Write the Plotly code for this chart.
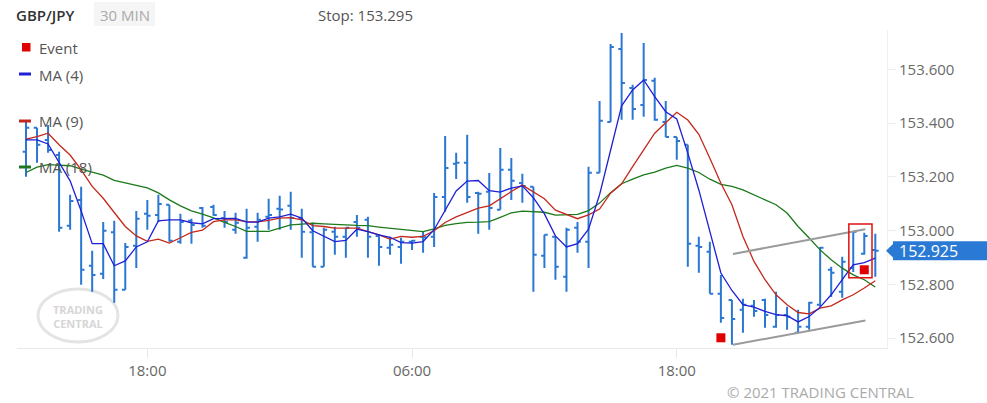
import plotly.graph_objects as go
import pandas as pd

# ---------------- data ----------------
start = pd.Timestamp("2021-03-01 12:30")
n_bars = 78
times = pd.date_range(start, periods=n_bars, freq="30min")

open_ = [153.293, 153.382, 153.337, 153.281, 153.018, 153.114, 152.869, 152.839, 152.994, 152.780,
         152.943, 153.062, 153.058, 153.096, 152.958, 153.036, 153.084, 153.088, 153.047, 153.003,
         152.899, 153.014, 153.051, 153.081, 153.092, 153.047, 152.994, 152.865, 152.995, 152.977,
         153.032, 153.040, 152.980, 152.936, 152.939, 152.958, 152.977, 152.977, 153.125, 153.248,
         153.252, 153.140, 153.144, 153.077, 153.226, 153.177, 153.163, 152.906, 152.977, 152.828,
         153.010, 152.958, 153.215, 153.404, 153.675, 153.530, 153.467, 153.557, 153.404, 153.348,
         153.319, 152.943, 152.921, 152.765, 152.742, 152.705, 152.720, 152.742, 152.642, 152.686,
         152.620, 152.642, 152.724, 152.854, 152.772, 152.861, 152.914, 152.928]
high = [153.404, 153.382, 153.393, 153.293, 153.133, 153.163, 152.925, 153.032, 153.036, 152.954,
        153.073, 153.114, 153.133, 153.096, 153.062, 153.044, 153.088, 153.096, 153.073, 153.066,
        153.081, 153.066, 153.118, 153.129, 153.144, 153.081, 153.029, 153.010, 153.014, 153.010,
        153.058, 153.051, 152.984, 152.977, 152.973, 152.965, 152.995, 153.140, 153.352, 153.289,
        153.356, 153.144, 153.214, 153.307, 153.270, 153.211, 153.163, 152.984, 152.977, 153.010,
        153.032, 153.237, 153.482, 153.694, 153.735, 153.542, 153.698, 153.568, 153.482, 153.348,
        153.319, 152.977, 152.958, 152.835, 152.742, 152.746, 152.742, 152.746, 152.772, 152.716,
        152.705, 152.735, 152.939, 152.865, 152.902, 152.995, 152.992, 152.988]
low = [153.200, 153.252, 153.289, 152.995, 153.003, 152.798, 152.772, 152.820, 152.731, 152.780,
       152.861, 153.003, 153.032, 152.958, 152.951, 152.951, 153.010, 153.055, 153.010, 152.988,
       152.895, 152.958, 153.003, 153.003, 153.003, 152.899, 152.865, 152.865, 152.910, 152.899,
       152.977, 152.899, 152.869, 152.910, 152.876, 152.928, 152.917, 152.939, 153.070, 153.192,
       153.103, 152.988, 153.003, 153.077, 153.114, 153.103, 152.772, 152.861, 152.817, 152.772,
       152.917, 152.861, 153.215, 153.404, 153.412, 153.412, 153.423, 153.408, 153.348, 153.263,
       152.865, 152.843, 152.765, 152.657, 152.575, 152.620, 152.679, 152.638, 152.638, 152.631,
       152.620, 152.631, 152.716, 152.753, 152.750, 152.846, 152.910, 152.828]
close = [153.382, 153.319, 153.300, 153.010, 153.110, 152.854, 152.835, 152.999, 152.780, 152.939,
         153.044, 153.055, 153.099, 152.962, 153.032, 153.021, 153.018, 153.058, 153.032, 153.029,
         153.010, 153.040, 153.058, 153.078, 153.047, 152.995, 152.865, 153.003, 152.977, 153.010,
         153.010, 152.977, 152.939, 152.947, 152.958, 152.962, 152.975, 153.125, 153.233, 153.252,
         153.125, 153.137, 153.084, 153.226, 153.185, 153.166, 152.910, 152.984, 152.865, 153.003,
         152.958, 153.215, 153.408, 153.683, 153.549, 153.452, 153.560, 153.412, 153.348, 153.333,
         152.951, 152.939, 152.765, 152.675, 152.671, 152.724, 152.701, 152.686, 152.686, 152.679,
         152.642, 152.731, 152.936, 152.843, 152.884, 152.995, 152.980, 152.925]

ma4 = [153.337, 153.337, 153.322, 153.252, 153.185, 153.073, 152.951, 152.951, 152.869, 152.887,
       152.939, 152.958, 153.036, 153.040, 153.040, 153.029, 153.025, 153.044, 153.044, 153.045,
       153.031, 153.031, 153.046, 153.051, 153.061, 153.046, 152.999, 152.980, 152.959, 152.963,
       153.005, 152.996, 152.984, 152.975, 152.955, 152.953, 152.959, 153.003, 153.073, 153.147,
       153.184, 153.186, 153.148, 153.143, 153.158, 153.166, 153.122, 153.062, 152.980, 152.939,
       152.951, 153.005, 153.133, 153.300, 153.464, 153.523, 153.560, 153.498, 153.442, 153.415,
       153.288, 153.151, 152.999, 152.842, 152.777, 152.724, 152.715, 152.699, 152.687, 152.683,
       152.660, 152.680, 152.715, 152.761, 152.817, 152.872, 152.881, 152.897]
ma9 = [153.340, 153.349, 153.362, 153.319, 153.281, 153.226, 153.164, 153.120, 153.067, 153.015,
       152.980, 152.960, 152.968, 152.953, 152.973, 152.993, 153.001, 153.033, 153.040, 153.040,
       153.033, 153.032, 153.038, 153.046, 153.048, 153.040, 153.018, 153.015, 153.009, 153.009,
       153.009, 152.996, 152.984, 152.968, 152.978, 152.975, 152.978, 152.999, 153.030, 153.051,
       153.068, 153.083, 153.092, 153.120, 153.145, 153.169, 153.145, 153.118, 153.076, 153.060,
       153.044, 153.058, 153.080, 153.139, 153.174, 153.238, 153.300, 153.362, 153.401, 153.440,
       153.411, 153.358, 153.269, 153.176, 153.096, 152.978, 152.885, 152.817, 152.761, 152.724,
       152.695, 152.690, 152.711, 152.720, 152.742, 152.761, 152.786, 152.813]
ma18 = [153.216, 153.236, 153.245, 153.244, 153.241, 153.228, 153.216, 153.206, 153.187, 153.178,
        153.170, 153.159, 153.140, 153.114, 153.092, 153.073, 153.061, 153.047, 153.030, 153.015,
        152.997, 152.996, 152.997, 153.009, 153.021, 153.024, 153.027, 153.025, 153.024, 153.021,
        153.019, 153.018, 153.013, 153.009, 153.003, 152.999, 152.996, 153.006, 153.019, 153.026,
        153.030, 153.031, 153.033, 153.049, 153.066, 153.072, 153.070, 153.068, 153.057, 153.058,
        153.060, 153.074, 153.102, 153.141, 153.174, 153.191, 153.207, 153.217, 153.232, 153.242,
        153.232, 153.216, 153.191, 153.172, 153.164, 153.151, 153.133, 153.114, 153.096, 153.065,
        153.015, 152.972, 152.928, 152.891, 152.860, 152.835, 152.817, 152.790]

event_bars = [63, 76]
event_prices = [152.601, 152.854]

channel_bars = [64.1, 76.1]
channel_upper = [152.913, 153.005]
channel_lower = [152.575, 152.665]

box_bars = [74.6, 76.7]
box_prices = [152.824, 153.024]

tick_times = ["2021-03-01 18:00", "2021-03-02 06:00", "2021-03-02 18:00"]
tick_labels = ["18:00", "06:00", "18:00"]
y_ticks = [152.6, 152.8, 153.0, 153.2, 153.4, 153.6]

symbol = "GBP/JPY"
interval = "30 MIN"
stop_level = 153.295

# ---------------- styling / layout helpers ----------------
W, H = 987, 403
ML, MR, MT, MB = 17, 100, 30, 55
PW, PH = W - ML - MR, H - MT - MB
Y_MIN, Y_MAX = 152.563, 153.746
FONT = "Open Sans"
BAR_BLUE = "#2a78d3"
MA4_C, MA9_C, MA18_C = "#1f1fd6", "#c4281c", "#1b7a1b"


def bar_time(f):
    return start + pd.Timedelta(minutes=30 * f)


def px(x):
    return (x - ML) / PW


def py(y):
    return (H - MB - y) / PH


def pprice(p):
    return (p - Y_MIN) / (Y_MAX - Y_MIN)


fig = go.Figure()

fig.add_trace(go.Ohlc(
    x=times, open=open_, high=high, low=low, close=close,
    increasing=dict(line=dict(color=BAR_BLUE, width=2)),
    decreasing=dict(line=dict(color=BAR_BLUE, width=2)),
    tickwidth=0.3, hoverinfo="skip", showlegend=False))

for vals, col in [(ma18, MA18_C), (ma9, MA9_C), (ma4, MA4_C)]:
    fig.add_trace(go.Scatter(x=times, y=vals, mode="lines",
                             line=dict(color=col, width=1.3),
                             hoverinfo="skip", showlegend=False))

# channel lines
for ch in (channel_upper, channel_lower):
    fig.add_trace(go.Scatter(x=[bar_time(b) for b in channel_bars], y=ch, mode="lines",
                             line=dict(color="#9a9a9a", width=2),
                             hoverinfo="skip", showlegend=False))

# events
fig.add_trace(go.Scatter(x=[times[i] for i in event_bars], y=event_prices, mode="markers",
                         marker=dict(symbol="square", size=9, color="#e00000"),
                         hoverinfo="skip", showlegend=False, cliponaxis=False))

shapes = []
# event box
shapes.append(dict(type="rect", xref="x", yref="y",
                   x0=bar_time(box_bars[0]), x1=bar_time(box_bars[1]),
                   y0=box_prices[0], y1=box_prices[1],
                   line=dict(color="#e01010", width=1.5)))

# header "30 MIN" pill
shapes.append(dict(type="rect", xref="paper", yref="paper",
                   x0=px(94), x1=px(155), y0=py(26), y1=py(2),
                   fillcolor="#f5f5f5", line=dict(width=0), layer="below"))

# legend symbols
shapes.append(dict(type="rect", xref="paper", yref="paper",
                   x0=px(22), x1=px(30.5), y0=py(51.5), y1=py(43),
                   fillcolor="#e00000", line=dict(width=0)))
for yy, col in [(74, MA4_C), (121, MA9_C), (167, MA18_C)]:
    shapes.append(dict(type="line", xref="paper", yref="paper",
                       x0=px(19), x1=px(31), y0=py(yy), y1=py(yy),
                       line=dict(color=col, width=3)))

# watermark ellipse
shapes.append(dict(type="circle", xref="paper", yref="paper",
                   x0=px(38), x1=px(118), y0=py(342), y1=py(289),
                   line=dict(color="#e4e4e4", width=3), layer="below"))

# last price tag
last = close[-1]
d = 0.0355
shapes.append(dict(type="rect", xref="paper", yref="paper",
                   x0=px(893), x1=px(992), y0=pprice(last - d), y1=pprice(last + d),
                   fillcolor="#2a7ad5", line=dict(width=0)))
shapes.append(dict(type="path", xref="paper", yref="paper",
                   path=f"M {px(886)},{pprice(last)} L {px(893.5)},{pprice(last + 0.027)} "
                        f"L {px(893.5)},{pprice(last - 0.027)} Z",
                   fillcolor="#2a7ad5", line=dict(width=0)))

ann = []


def text(x, y, s, size=15, color="#555", anchor="left", weight=None, **kw):
    f = dict(family=FONT, size=size, color=color)
    if weight:
        f["weight"] = weight
    ann.append(dict(x=px(x), y=py(y), xref="paper", yref="paper", text=s,
                    showarrow=False, xanchor=anchor, yanchor="middle", font=f, **kw))


text(14, 15, symbol, color="#333", weight=600)
text(124.5, 15, interval, color="#aaa", anchor="center")
text(316, 15, f"Stop: {stop_level:.3f}", color="#555")
text(37, 48, "Event")
text(37, 75, "MA (4)")
text(37, 121, "MA (9)")
text(37, 167, "MA (18)")
text(78, 316, "TRADING<br>CENTRAL", size=11, color="#d6d6d6", anchor="center", weight=700)
text(820, 392, "© 2021 TRADING CENTRAL", color="#aaa", anchor="center")

ann.append(dict(x=px(897), y=pprice(last), xref="paper", yref="paper",
                text=f"{last:.3f}", showarrow=False, xanchor="left", yanchor="middle",
                font=dict(family=FONT, size=16, color="white")))

fig.update_layout(
    width=W, height=H,
    margin=dict(l=ML, r=MR, t=MT, b=MB),
    paper_bgcolor="white", plot_bgcolor="white",
    font=dict(family=FONT, size=15, color="#666"),
    showlegend=False,
    shapes=shapes, annotations=ann,
    xaxis=dict(type="date", range=[bar_time(-0.816), bar_time(78.06)],
               tickvals=tick_times, ticktext=tick_labels,
               showgrid=False, zeroline=False,
               showline=True, linecolor="#e8e8e8", linewidth=1,
               ticks="outside", ticklen=9, tickcolor="#e8e8e8",
               tickfont=dict(family=FONT, size=15, color="#666"),
               rangeslider=dict(visible=False), fixedrange=True),
    yaxis=dict(side="right", range=[Y_MIN, Y_MAX],
               tickvals=y_ticks, tickformat=".3f",
               showgrid=False, zeroline=False,
               showline=True, linecolor="#f0f0f0", linewidth=1,
               ticks="outside", ticklen=8, tickcolor="#ececec",
               tickfont=dict(family=FONT, size=15, color="#6a6a6a"), fixedrange=True),
)

fig.write_html("out.html", config=dict(displayModeBar=False),
               post_script="document.body.style.margin='0';document.body.style.overflow='hidden';")
